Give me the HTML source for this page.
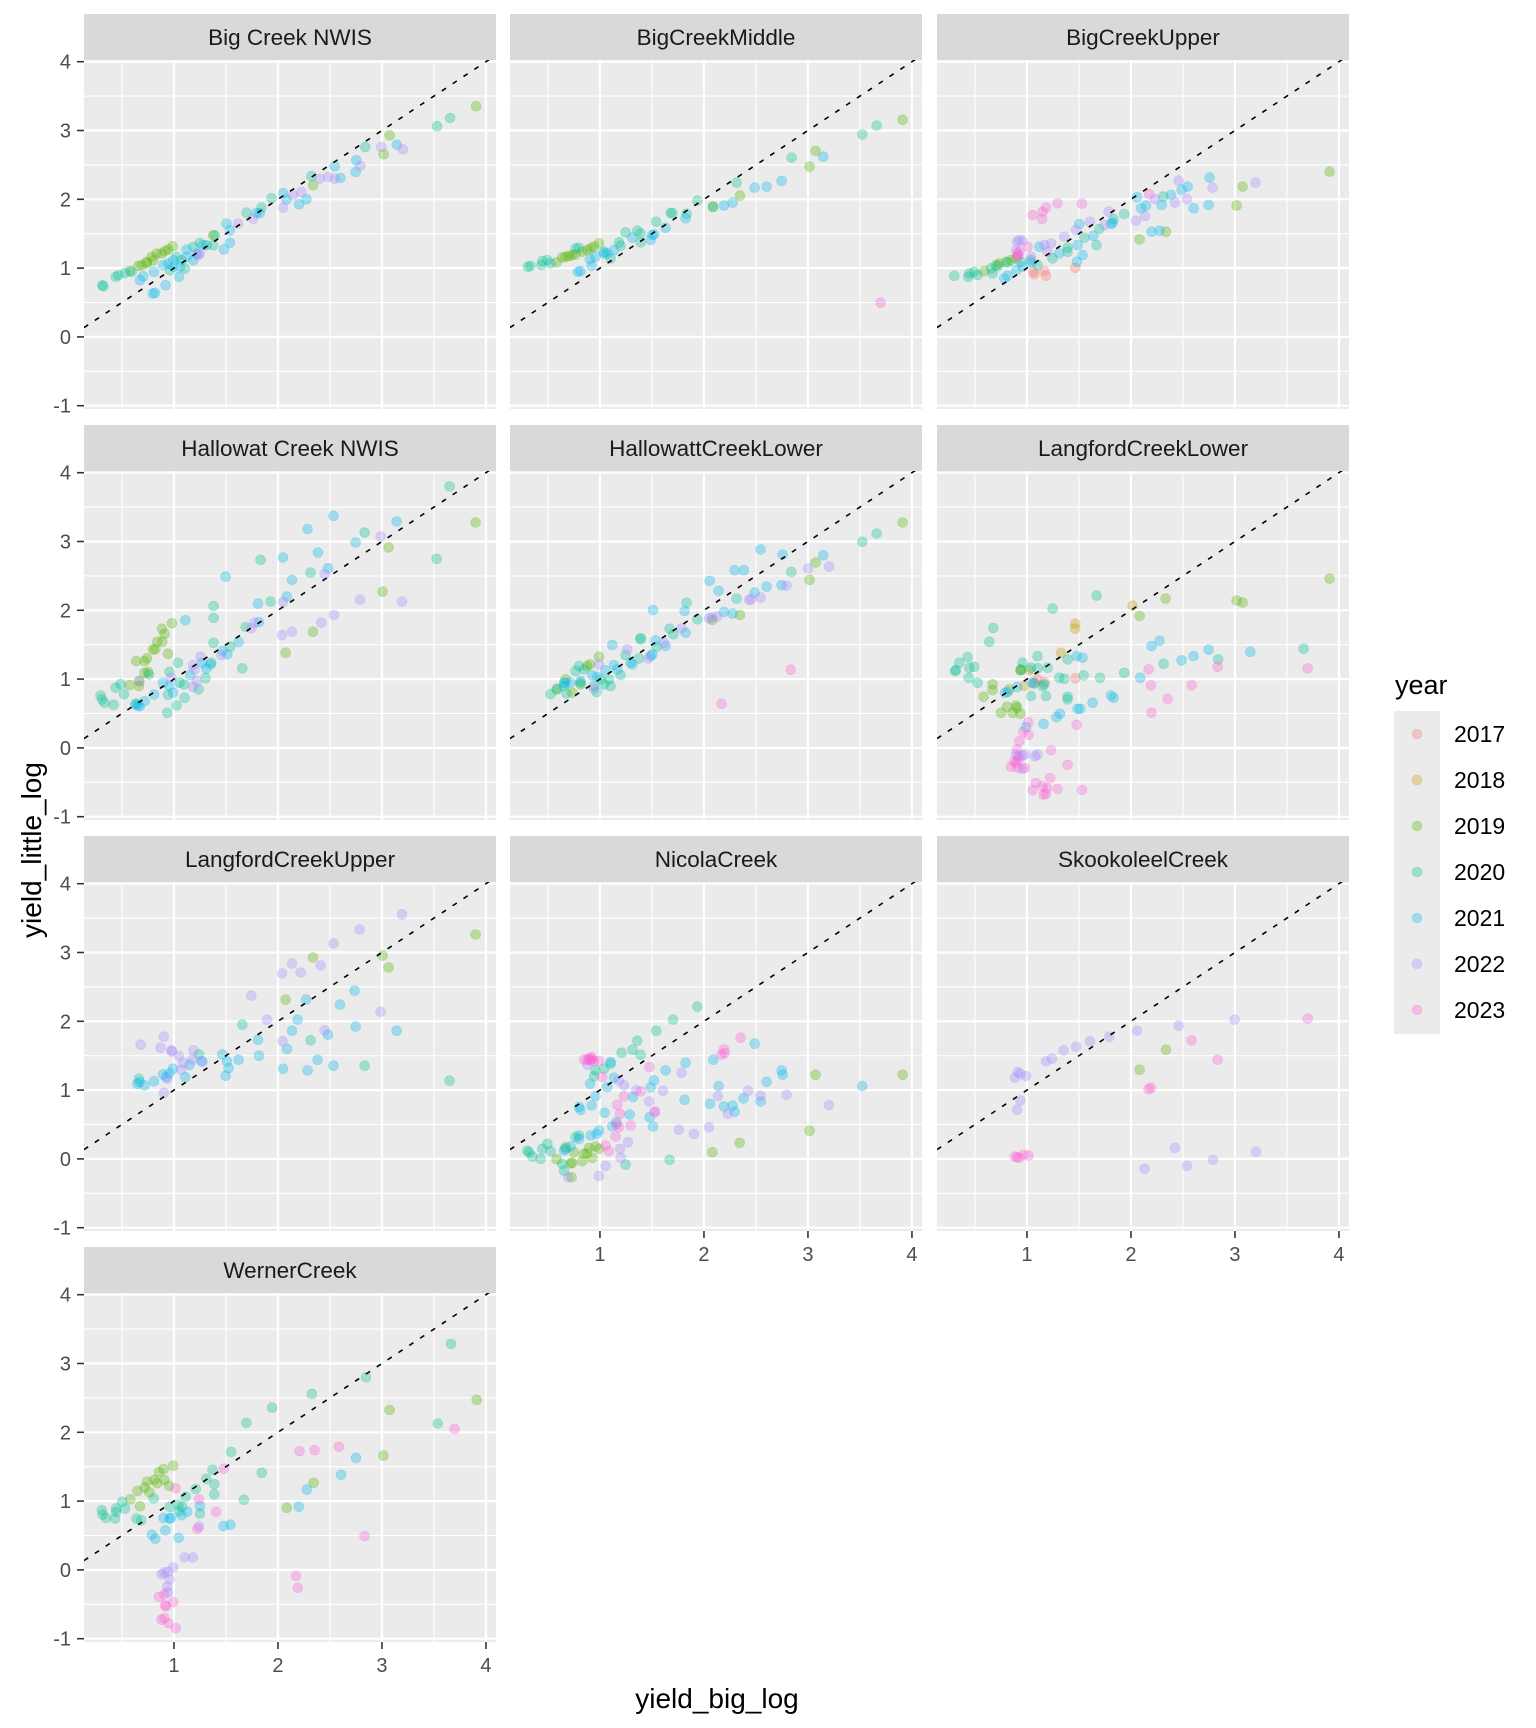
<!DOCTYPE html>
<html><head><meta charset="utf-8"><style>
html,body{margin:0;padding:0;background:#fff;}
svg{display:block;font-family:"Liberation Sans",Arial,sans-serif;}
</style></head><body>
<svg id="s" width="1536" height="1728" viewBox="0 0 1536 1728" xmlns="http://www.w3.org/2000/svg"></svg>
<script>
const COLS=["#F8766D","#C49A00","#53B400","#00C094","#00B6EB","#A58AFF","#FB61D7"];
const L=[84,510,937], ST=[14,425,836,1247], W=412, H=349;
function T0(zx,zy){return [1+(zx-288)/312,(845-zy)/206];}
function T1(zx,zy){return [1+(zx-522)/312.5,(1010-zy)/206.5];}
function T4(zx,zy){return [1+(zx-487)/291.3,(1092-zy)/204];}
const P=[
{n:"Big Creek NWIS",c:0,r:0,t:T1,d:{3:"307,855;310,858;347,830;355,825;375,818;395,815;935,528;1097,440;1313,378;1352,353;815,594;785,622;740,637;645,705;640,735;580,740;600,728;545,780;555,805;510,810;530,770;620,735",2:"415,797;425,795;440,785;455,770;470,760;485,760;495,752;505,748;518,738;390,812;440,790;460,780;1170,405;1152,462;940,555;1430,318;640,705",4:"420,840;430,828;462,815;458,880;465,878;497,855;490,795;505,790;520,800;537,830;540,800;560,748;580,780;590,760;610,735;680,670;690,728;672,748;690,690;770,638;780,638;850,578;860,598;898,612;920,597;1005,498;1022,533;1068,515;1070,480;1192,433;520,780;560,770",5:"850,622;880,585;905,575;960,535;985,530;1005,535;1082,497;1145,440;1210,447;760,655;595,765;600,760;715,670"}},
{n:"BigCreekMiddle",c:1,r:0,t:T0,d:{3:"72,635;80,632;112,630;115,618;130,615;140,625;215,580;225,578;345,562;365,532;350,572;400,527;410,535;410,562;457,500;500,474;505,474;548,476;580,437;627,456;698,383;863,308;1075,239;1118,212;300,595;320,610",2:"158,622;175,607;185,605;195,603;205,600;215,598;235,590;250,585;260,580;270,575;285,565;708,422;917,335;935,288;1196,195;627,455",4:"222,650;230,648;263,632;258,613;275,605;300,590;330,585;310,595;440,555;450,538;445,540;485,518;545,490;660,452;686,443;752,398;788,395;833,378;958,305;385,548",6:"1130,743"}},
{n:"BigCreekUpper",c:2,r:0,t:T0,d:{3:"70,662;112,665;115,655;130,650;140,660;180,640;185,655;200,633;410,578;410,590;460,548;497,570;505,522;548,492;580,477;697,425;270,620;300,615;320,630;365,610;230,622",2:"160,648;195,630;205,625;225,620;240,615;255,610;626,553;705,530;917,452;935,395;1196,350",4:"220,670;230,662;256,645;275,635;325,575;385,595;440,570;445,507;455,600;438,620;487,543;540,507;545,503;618,427;630,460;645,452;662,530;686,527;692,450;720,420;752,404;770,395;788,460;833,450;836,368;300,622",5:"258,560;265,555;275,558;255,585;340,570;360,565;350,590;400,545;435,525;477,500;520,510;533,470;615,497;642,483;672,432;732,443;743,377;768,432;845,398;974,383;300,605",6:"260,595;262,600;265,590;290,575;305,480;335,470;345,458;333,492;380,445;453,446;655,418;260,605",0:"307,650;310,657;340,648;345,662;433,638"}},
{n:"Hallowat Creek NWIS",c:0,r:1,t:T0,d:{3:"68,688;72,700;80,710;107,716;113,665;128,654;138,684;175,712;213,625;268,740;270,686;296,718;320,695;300,590;275,617;305,650;318,655;383,636;362,670;400,590;407,530;407,456;407,420;457,542;493,607;503,483;548,282;578,407;698,320;860,200;1115,62;1076,279",2:"155,657;175,585;183,660;183,645;200,585;207,577;200,620;210,618;225,550;232,550;238,527;253,527;260,503;252,488;270,563;282,472;623,560;705,497;914,377;932,245;1193,170",4:"172,715;180,718;185,720;200,705;228,685;255,650;275,660;285,680;322,463;337,627;372,590;385,608;398,595;433,555;448,565;443,332;482,528;540,413;543,468;615,275;627,392;642,342;689,190;720,260;750,307;767,150;833,230;956,167",5:"185,645;280,635;345,597;345,663;350,610;368,572;357,645;430,567;520,487;530,470;612,507;615,408;642,497;730,470;740,325;768,447;846,402;908,212;972,407"}},
{n:"HallowattCreekLower",c:1,r:1,t:T0,d:{3:"140,684;160,668;180,660;188,682;215,615;225,600;240,610;270,660;278,678;300,655;320,660;315,640;350,627;365,567;405,577;410,516;410,520;458,543;497,488;508,505;548,410;580,460;698,398;862,318;1075,228;1118,203;290,640;230,650",2:"158,670;185,640;205,680;230,655;258,595;250,600;285,572;625,462;708,447;917,342;935,290;1196,170",4:"180,650;185,650;200,650;230,645;265,628;280,632;303,612;325,537;330,597;340,610;385,595;380,590;440,570;445,565;447,432;455,523;485,540;542,435;545,500;617,345;644,375;660,438;686,443;692,313;720,313;752,380;770,251;788,362;833,358;836,266;958,268",5:"270,668;285,595;370,550;433,577;480,530;533,487;615,457;640,452;735,402;742,400;770,395;848,360;912,308;975,302;625,455",6:"653,713;860,611"}},
{n:"LangfordCreekLower",c:2,r:1,t:T0,d:{3:"72,615;75,612;85,590;110,573;115,605;113,635;130,602;140,650;175,527;187,486;275,590;270,612;300,605;320,570;320,607;350,605;365,428;385,635;400,638;410,580;410,692;410,700;458,628;497,389;507,635;580,620;698,593;862,580;1118,548;300,690;335,660;345,690;340,655;310,652",2:"158,692;185,655;185,672;210,740;228,722;245,740;255,718;258,725;268,743;235,670;268,612;626,450;704,398;917,404;935,410;1196,338",1:"270,610;390,560;433,473;432,488;605,419;280,660;295,612",0:"310,650;340,648;433,637;320,640",4:"222,680;230,678;258,663;285,783;302,650;338,773;377,753;387,743;437,570;455,575;440,728;448,728;485,710;540,688;548,695;628,635;662,540;686,524;752,583;788,570;833,551;958,557",5:"255,865;262,870;275,868;282,865;275,908;312,870;320,865",6:"240,902;250,885;255,890;262,880;258,850;265,825;277,797;292,768;293,806;260,905;282,905;315,950;305,972;335,960;338,985;345,982;348,965;358,935;360,852;380,968;410,896;437,776;453,971;653,610;660,658;662,740;710,698;782,658;860,602;1130,607"}},
{n:"LangfordCreekUpper",c:0,r:2,t:T0,d:{5:"188,503;248,512;257,479;258,647;280,520;282,523;303,537;310,578;316,558;347,520;343,547;370,553;268,605;520,356;567,428;612,290;642,260;668,287;614,493;728,266;740,460;767,200;845,158;908,404;972,113",3:"183,605;363,532;493,443;698,490;860,566;1115,611",2:"623,368;705,242;914,236;932,272;1193,173",4:"178,620;185,615;200,625;228,613;255,592;275,588;285,575;265,600;322,600;335,563;373,553;433,532;447,553;452,573;443,596;482,548;540,488;543,536;615,575;627,516;642,461;659,428;684,368;689,580;719,548;750,473;767,566;786,383;830,341;833,449;956,461"}},
{n:"NicolaCreek",c:1,r:2,t:T0,d:{3:"70,820;75,825;85,838;110,845;115,815;130,800;140,822;175,860;185,815;215,780;225,775;270,598;275,580;300,575;320,560;353,527;386,518;400,491;410,533;457,461;507,428;580,389;497,848;365,862;180,880",2:"158,846;185,810;200,858;205,857;210,825;235,852;240,830;255,812;250,828;265,842;275,808;285,815;203,900;625,825;707,797;917,761;935,593;1196,593",4:"180,820;200,808;225,785;225,690;230,698;258,620;263,685;260,775;275,657;278,770;285,760;302,707;310,630;320,555;325,748;330,602;337,735;377,712;387,660;440,631;450,610;437,720;447,748;485,580;542,668;545,557;618,680;628,548;644,627;660,688;686,685;692,704;719,664;752,500;770,673;788,614;833,580;836,593;1075,627",5:"192,900;250,563;285,896;305,866;345,610;350,842;348,815;360,625;372,795;397,640;435,673;452,705;477,641;525,758;533,587;570,770;615,750;642,657;672,710;732,641;770,656;848,653;975,684",6:"240,548;250,548;255,545;260,550;265,545;270,552;285,552;262,540;295,600;305,805;315,822;335,778;338,742;340,683;345,750;348,710;360,658;380,745;410,643;437,570;453,703;653,533;660,517;662,528;710,482"}},
{n:"SkookoleelCreek",c:2,r:2,t:T0,d:{5:"252,602;260,585;268,590;285,597;258,698;268,670;345,553;363,545;398,520;435,509;477,493;535,479;618,461;743,446;911,428;641,875;732,812;768,866;846,848;975,824",6:"252,838;258,840;265,842;278,832;293,835;653,636;660,632;782,490;860,548;1130,425",2:"626,578;705,518"}},
{n:"WernerCreek",c:0,r:3,t:T4,d:{3:"285,915;287,928;297,938;322,940;325,910;325,920;342,890;350,910;382,940;395,945;430,880;500,900;510,905;520,875;548,852;560,925;578,822;595,795;600,838;600,868;647,742;683,884;690,656;733,804;762,611;873,570;1025,521;1226,658;1263,422;475,905;500,918",2:"365,883;385,858;392,903;405,848;412,830;418,862;432,825;440,835;445,802;458,793;460,825;473,843;485,783;803,908;878,834;1074,753;1091,618;1335,588",4:"425,988;435,1000;458,938;463,975;475,940;478,938;500,997;508,930;524,920;560,903;626,962;645,958;837,905;859,854;955,810;997,760",5:"452,1105;460,1100;470,1098;475,1120;485,1085;468,1142;470,1158;517,1055;540,1055;557,963",6:"445,1172;460,1165;462,1197;465,1200;485,1188;452,1240;460,1235;472,1250;492,1265;492,850;557,883;553,970;605,920;627,792;829,1110;834,1145;839,740;881,737;949,727;1021,992;1273,674"}}
];
let o="";
const X0=0.135,UX=104,UY=68.8;
for(const p of P){
  const left=L[p.c], st=ST[p.r], top=st+46;
  const mx=v=>left+(v-X0)*UX, my=v=>top+1.7+(4-v)*UY;
  o+=`<rect x="${left}" y="${st}" width="${W}" height="46" fill="#D9D9D9"/>`;
  o+=`<text x="${left+W/2}" y="${st+31}" text-anchor="middle" font-size="22.5" fill="#1A1A1A">${p.n}</text>`;
  o+=`<rect x="${left}" y="${top}" width="${W}" height="${H}" fill="#EBEBEB"/>`;
  o+=`<clipPath id="c${p.c}${p.r}"><rect x="${left}" y="${top}" width="${W}" height="${H}"/></clipPath><g clip-path="url(#c${p.c}${p.r})">`;
  for(let v=-0.5;v<4.1;v+=1){o+=`<line x1="${left}" x2="${left+W}" y1="${my(v)}" y2="${my(v)}" stroke="#fff" stroke-width="1.1"/>`;}
  for(let v=0.5;v<4.1;v+=1){o+=`<line y1="${top}" y2="${top+H}" x1="${mx(v)}" x2="${mx(v)}" stroke="#fff" stroke-width="1.1"/>`;}
  for(let v=-1;v<=4;v++){o+=`<line x1="${left}" x2="${left+W}" y1="${my(v)}" y2="${my(v)}" stroke="#fff" stroke-width="2.2"/>`;}
  for(let v=1;v<=4;v++){o+=`<line y1="${top}" y2="${top+H}" x1="${mx(v)}" x2="${mx(v)}" stroke="#fff" stroke-width="2.2"/>`;}
  for(const k in p.d){
    for(const s of p.d[k].split(";")){
      const [a,b]=s.split(",").map(Number); const [x,y]=p.t(a,b);
      o+=`<circle cx="${mx(x).toFixed(1)}" cy="${my(y).toFixed(1)}" r="5" fill="${COLS[k]}" fill-opacity="0.32" stroke="${COLS[k]}" stroke-opacity="0.3" stroke-width="0.6"/>`;
    }
  }
  o+=`<line x1="${mx(X0)}" y1="${my(X0)}" x2="${mx(4.2)}" y2="${my(4.2)}" stroke="#000" stroke-width="1.6" stroke-dasharray="5,8"/>`;
  o+=`</g>`;
  if(p.c==0){
    for(let v=-1;v<=4;v++){o+=`<line x1="${left-7}" x2="${left}" y1="${my(v)}" y2="${my(v)}" stroke="#333" stroke-width="1.6"/><text x="${left-13}" y="${my(v)+7}" text-anchor="end" font-size="20" fill="#4D4D4D">${v}</text>`;}
  }
  if(p.r==3||(p.r==2&&p.c>0)){
    for(let v=1;v<=4;v++){o+=`<line y1="${top+H}" y2="${top+H+7}" x1="${mx(v)}" x2="${mx(v)}" stroke="#333" stroke-width="1.6"/><text x="${mx(v)}" y="${top+H+30}" text-anchor="middle" font-size="20" fill="#4D4D4D">${v}</text>`;}
  }
}
o+=`<text x="717" y="1708" text-anchor="middle" font-size="28" fill="#000">yield_big_log</text>`;
o+=`<text transform="translate(41,850) rotate(-90)" text-anchor="middle" font-size="28" fill="#000">yield_little_log</text>`;
o+=`<text x="1395" y="694" font-size="27" fill="#000">year</text>`;
o+=`<rect x="1394" y="711" width="46" height="323" fill="#EBEBEB"/>`;
for(let i=0;i<7;i++){const cy=734+46*i;o+=`<circle cx="1417" cy="${cy}" r="5" fill="${COLS[i]}" fill-opacity="0.32" stroke="${COLS[i]}" stroke-opacity="0.3" stroke-width="0.6"/><text x="1454" y="${cy+8}" font-size="23" fill="#000">${2017+i}</text>`;}
document.getElementById("s").innerHTML=o;
</script>
</body></html>
